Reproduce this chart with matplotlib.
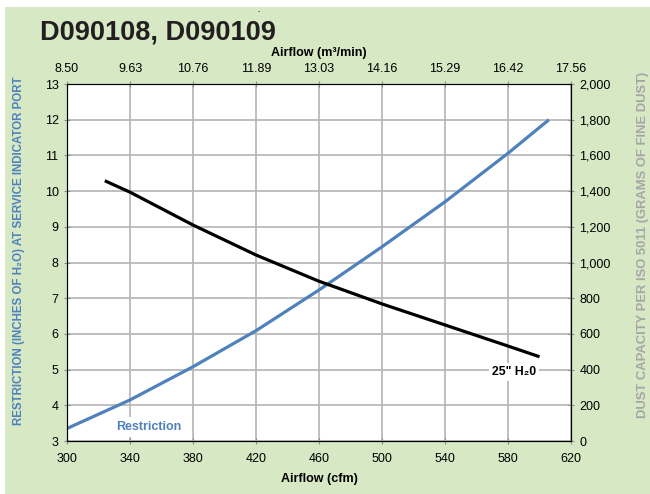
import matplotlib
matplotlib.use("Agg")
import matplotlib.pyplot as plt
from matplotlib.patches import Rectangle

# data
restr_cfm = [300, 340, 380, 420, 460, 500, 540, 580, 606]
restr_h2o = [3.35, 4.15, 5.08, 6.09, 7.23, 8.44, 9.70, 11.06, 12.0]

dust_cfm = [324, 340, 380, 420, 460, 500, 540, 580, 600]
dust_g = [1458, 1394, 1210, 1042, 895, 768, 650, 532, 472]

cfm_ticks = [300, 340, 380, 420, 460, 500, 540, 580, 620]
m3_labels = ["8.50", "9.63", "10.76", "11.89", "13.03", "14.16", "15.29", "16.42", "17.56"]
left_ticks = list(range(3, 14))
right_ticks = list(range(0, 2001, 200))

BG = "#d6e8c4"
BLUE = "#4f81bd"
GRAY = "#8c8c8c"
plt.rcParams['font.family'] = ['Liberation Sans', 'DejaVu Sans']

fig = plt.figure(figsize=(6.5, 4.94), dpi=100)
fig.patch.set_facecolor("white")
fig.patches.append(Rectangle((5/650, 0), 1, 1 - 7/494, transform=fig.transFigure,
                             facecolor=BG, edgecolor="none", zorder=-10))

ax = fig.add_axes([67/650, 1 - 441/494, 504/650, 357/494])
ax.set_facecolor("white")
ax.set_xlim(300, 620)
ax.set_ylim(3, 13)
ax.set_xticks(cfm_ticks)
ax.set_yticks(left_ticks)
ax.grid(True, color="#b4b4b4", lw=1.2, zorder=0)
ax.set_axisbelow(True)
for s in ax.spines.values():
    s.set_color(GRAY)
ax.tick_params(colors=GRAY, labelcolor="black", labelsize=9, length=5, direction="inout")
ax.tick_params(axis="x", pad=6)

ax.plot(restr_cfm, restr_h2o, color=BLUE, lw=2.3, zorder=3, solid_capstyle="butt")

ax2 = ax.twinx()
ax2.set_ylim(0, 2000)
ax2.set_yticks(right_ticks)
ax2.set_yticklabels([f"{v:,}" for v in right_ticks])
ax2.tick_params(colors=GRAY, labelcolor="black", labelsize=9, length=5, direction="inout")
for s in ax2.spines.values():
    s.set_color(GRAY)
ax2.plot(dust_cfm, dust_g, color="black", lw=2.3, zorder=3, solid_capstyle="butt")

ax3 = ax.twiny()
ax3.set_xlim(ax.get_xlim())
ax3.set_xticks(cfm_ticks)
ax3.set_xticklabels(m3_labels)
ax3.tick_params(colors=GRAY, labelcolor="black", labelsize=9, length=5, direction="inout", pad=4)

ax.text(352, 3.39, "Restriction", color=BLUE, fontsize=9, fontweight="bold",
        ha="center", va="center", zorder=5,
        bbox=dict(facecolor="white", edgecolor="none", pad=3))
ax.text(584, 4.93, "25\" H\u20820", color="black", fontsize=8.8, fontweight="bold",
        ha="center", va="center", zorder=5,
        bbox=dict(facecolor="white", edgecolor="none", pad=2))

fig.text(40/650, 1 - 32/494, "D090108, D090109", fontsize=19.5, fontweight="bold",
         color="#231f20", ha="left", va="center")
fig.text(259/650, 1 - 12/494, "-", fontsize=5, color="#333333", ha="center", va="center")
fig.text(319/650, 1 - 53/494, "Airflow (m\u00b3/min)", fontsize=9, fontweight="bold",
         ha="center", va="center")
fig.text(319/650, 1 - 479/494, "Airflow (cfm)", fontsize=9, fontweight="bold",
         ha="center", va="center")
fig.text(19/650, 1 - 251/494, "RESTRICTION (INCHES OF H\u2082O) AT SERVICE INDICATOR PORT",
         rotation=90, fontsize=8.3, fontweight="bold", color=BLUE, ha="center", va="center")
fig.text(643/650, 1 - 245/494, "DUST CAPACITY PER ISO 5011 (GRAMS OF FINE DUST)",
         rotation=90, fontsize=9.4, fontweight="bold", color="#a6a6a6", ha="center", va="center")

fig.savefig("out.png", dpi=100, facecolor=fig.get_facecolor())
